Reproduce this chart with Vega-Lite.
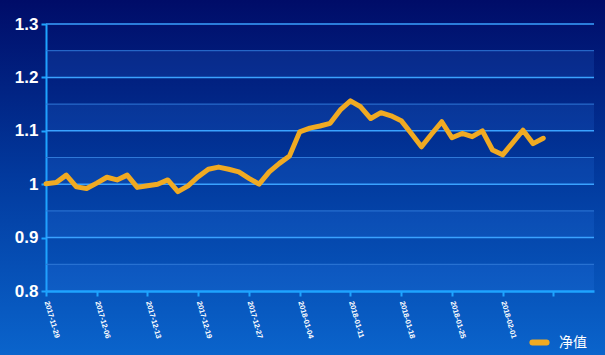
{
  "$schema": "https://vega.github.io/schema/vega-lite/v6.json",
  "width": 605,
  "height": 355,
  "autosize": {"type": "none"},
  "padding": 0,
  "background": "#0a3c9a",
  "config": {
    "view": {
      "stroke": null,
      "fill": {"gradient": "linear", "x1": 0, "y1": 0, "x2": 0, "y2": 1,
        "stops": [{"offset": 0, "color": "#000c68"}, {"offset": 0.5, "color": "#023a9e"}, {"offset": 1, "color": "#0a64cc"}]}
    }
  },
  "datasets": {
    "nav": [
      {"i": 0, "date": "2017-11-29", "nav": 1.001},
      {"i": 1, "date": "2017-11-30", "nav": 1.003},
      {"i": 2, "date": "2017-12-01", "nav": 1.017},
      {"i": 3, "date": "2017-12-04", "nav": 0.995},
      {"i": 4, "date": "2017-12-05", "nav": 0.992},
      {"i": 5, "date": "2017-12-06", "nav": 1.002},
      {"i": 6, "date": "2017-12-07", "nav": 1.013},
      {"i": 7, "date": "2017-12-08", "nav": 1.008},
      {"i": 8, "date": "2017-12-11", "nav": 1.017},
      {"i": 9, "date": "2017-12-12", "nav": 0.994},
      {"i": 10, "date": "2017-12-13", "nav": 0.997},
      {"i": 11, "date": "2017-12-14", "nav": 1.000},
      {"i": 12, "date": "2017-12-15", "nav": 1.008},
      {"i": 13, "date": "2017-12-17", "nav": 0.986},
      {"i": 14, "date": "2017-12-18", "nav": 0.997},
      {"i": 15, "date": "2017-12-19", "nav": 1.014},
      {"i": 16, "date": "2017-12-20", "nav": 1.028},
      {"i": 17, "date": "2017-12-21", "nav": 1.032},
      {"i": 18, "date": "2017-12-22", "nav": 1.028},
      {"i": 19, "date": "2017-12-26", "nav": 1.023},
      {"i": 20, "date": "2017-12-27", "nav": 1.011},
      {"i": 21, "date": "2017-12-28", "nav": 1.000},
      {"i": 22, "date": "2017-12-29", "nav": 1.023},
      {"i": 23, "date": "2018-01-02", "nav": 1.039},
      {"i": 24, "date": "2018-01-03", "nav": 1.053},
      {"i": 25, "date": "2018-01-04", "nav": 1.098},
      {"i": 26, "date": "2018-01-05", "nav": 1.105},
      {"i": 27, "date": "2018-01-08", "nav": 1.109},
      {"i": 28, "date": "2018-01-09", "nav": 1.114},
      {"i": 29, "date": "2018-01-10", "nav": 1.139},
      {"i": 30, "date": "2018-01-11", "nav": 1.156},
      {"i": 31, "date": "2018-01-12", "nav": 1.145},
      {"i": 32, "date": "2018-01-15", "nav": 1.123},
      {"i": 33, "date": "2018-01-16", "nav": 1.134},
      {"i": 34, "date": "2018-01-17", "nav": 1.128},
      {"i": 35, "date": "2018-01-18", "nav": 1.119},
      {"i": 36, "date": "2018-01-19", "nav": 1.095},
      {"i": 37, "date": "2018-01-22", "nav": 1.070},
      {"i": 38, "date": "2018-01-23", "nav": 1.094},
      {"i": 39, "date": "2018-01-24", "nav": 1.117},
      {"i": 40, "date": "2018-01-25", "nav": 1.087},
      {"i": 41, "date": "2018-01-26", "nav": 1.095},
      {"i": 42, "date": "2018-01-29", "nav": 1.089},
      {"i": 43, "date": "2018-01-30", "nav": 1.100},
      {"i": 44, "date": "2018-01-31", "nav": 1.064},
      {"i": 45, "date": "2018-02-01", "nav": 1.055},
      {"i": 46, "date": "2018-02-02", "nav": 1.078},
      {"i": 47, "date": "2018-02-05", "nav": 1.101},
      {"i": 48, "date": "2018-02-06", "nav": 1.076},
      {"i": 49, "date": "2018-02-07", "nav": 1.086}
    ],
    "bands": [
      {"lo": 0.80, "hi": 0.85},
      {"lo": 0.90, "hi": 0.95},
      {"lo": 1.00, "hi": 1.05},
      {"lo": 1.10, "hi": 1.15},
      {"lo": 1.20, "hi": 1.25}
    ],
    "major": [{"v": 1.3}, {"v": 1.2}, {"v": 1.1}, {"v": 1.0}, {"v": 0.9}],
    "minor": [{"v": 1.25}, {"v": 1.15}, {"v": 1.05}, {"v": 0.95}, {"v": 0.85}]
  },
  "resolve": {"scale": {"x": "shared", "y": "shared"}},
  "layer": [
    {
      "data": {"name": "bands"},
      "mark": {"type": "rect", "fill": "#3a8cff", "fillOpacity": 0.14},
      "encoding": {
        "x": {"datum": 0, "type": "quantitative"},
        "x2": {"datum": 54},
        "y": {"field": "lo", "type": "quantitative"},
        "y2": {"field": "hi"}
      }
    },
    {
      "data": {"name": "minor"},
      "mark": {"type": "rule", "stroke": "#2f78d8", "strokeWidth": 1},
      "encoding": {
        "x": {"datum": 0, "type": "quantitative"},
        "x2": {"datum": 54},
        "y": {"field": "v", "type": "quantitative"}
      }
    },
    {
      "data": {"name": "major"},
      "mark": {"type": "rule", "stroke": "#3aa2ff", "strokeWidth": 1.5},
      "encoding": {
        "x": {"datum": 0, "type": "quantitative"},
        "x2": {"datum": 54},
        "y": {"field": "v", "type": "quantitative"}
      }
    },
    {
      "data": {"name": "nav"},
      "mark": {"type": "line", "strokeWidth": 5, "strokeJoin": "round", "strokeCap": "round"},
      "encoding": {
        "x": {
          "field": "i", "type": "quantitative",
          "scale": {"domain": [0, 54], "range": [46, 594], "nice": false, "zero": false},
          "axis": {
            "orient": "bottom", "offset": -64, "title": null, "grid": false,
            "values": [0, 5, 10, 15, 20, 25, 30, 35, 40, 45, 50],
            "labelExpr": "datum.value < 50 ? ['2017-11-29','2017-12-06','2017-12-13','2017-12-19','2017-12-27','2018-01-04','2018-01-11','2018-01-18','2018-01-25','2018-02-01'][datum.value/5] : ''",
            "labelAngle": 74, "labelAlign": "left", "labelBaseline": "middle",
            "labelFont": "Liberation Sans", "labelFontSize": 7.5, "labelFontWeight": "bold", "labelColor": "#ffffff",
            "labelPadding": 5, "labelOverlap": false, "labelBound": false, "labelFlush": false,
            "domainColor": "#1ea4ff", "domainWidth": 2.5,
            "tickColor": "#1ea4ff", "tickWidth": 2, "tickSize": 5
          }
        },
        "y": {
          "field": "nav", "type": "quantitative",
          "scale": {"domain": [0.8, 1.3], "range": [291, 24], "nice": false, "zero": false},
          "axis": {
            "orient": "left", "offset": -46, "title": null, "grid": false,
            "values": [0.8, 0.9, 1.0, 1.1, 1.2, 1.3],
            "format": ".1~f",
            "labelFont": "Liberation Sans", "labelFontSize": 17, "labelFontWeight": "bold", "labelColor": "#ffffff",
            "labelPadding": 3, "labelFlush": false, "labelOverlap": false,
            "domainColor": "#1ea4ff", "domainWidth": 2,
            "tickColor": "#1ea4ff", "tickWidth": 2, "tickSize": 5
          }
        },
        "color": {
          "datum": "净值",
          "scale": {"domain": ["净值"], "range": ["#f0aa22"]},
          "legend": {
            "orient": "none", "legendX": 529, "legendY": 332, "title": null,
            "symbolType": "stroke", "symbolStrokeWidth": 6, "symbolSize": 200,
            "labelFont": "Noto Sans CJK SC", "labelFontSize": 14, "labelColor": "#ffffff",
            "labelOffset": 9,
            "encode": {"symbols": {"update": {"strokeCap": {"value": "round"}}}}
          }
        }
      }
    }
  ]
}
